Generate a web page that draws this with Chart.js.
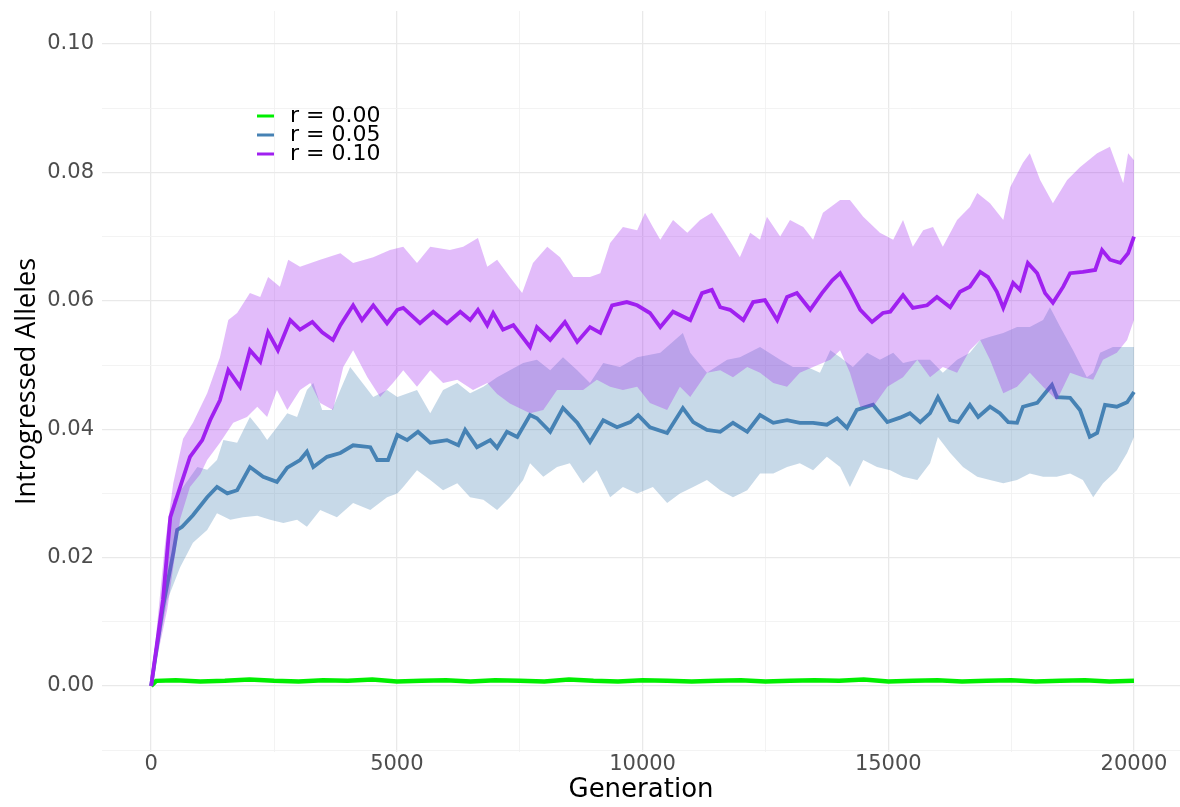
<!DOCTYPE html>
<html>
<head>
<meta charset="utf-8">
<title>Introgressed alleles by generation</title>
<script src="https://cdn.jsdelivr.net/npm/chart.js@4.4.1/dist/chart.umd.min.js"></script>
<style>
  html, body { margin: 0; padding: 0; background: #fff; }
  #wrap { width: 1180px; height: 807px; position: relative; }
</style>
</head>
<body>
<div id="wrap"><canvas id="chart"></canvas></div>
<script>
// r = 0.10 : mean and band
const purpleGen = [0, 240, 390, 590, 790, 1040, 1200, 1400, 1570, 1810,
  2010, 2220, 2380, 2580, 2830, 3030, 3280, 3480, 3700, 3850,
  4110, 4290, 4520, 4800, 5010, 5130, 5470, 5740, 6020, 6290,
  6490, 6650, 6840, 6960, 7160, 7370, 7710, 7850, 8120, 8420,
  8670, 8930, 9140, 9380, 9680, 9890, 10150, 10360, 10620, 10970,
  11210, 11410, 11580, 11780, 12050, 12250, 12490, 12740, 12940, 13140,
  13410, 13650, 13860, 14020, 14220, 14430, 14670, 14890, 15040, 15300,
  15500, 15790, 15990, 16260, 16460, 16660, 16870, 17030, 17210, 17340,
  17540, 17680, 17840, 18030, 18190, 18350, 18560, 18700, 18960, 19210,
  19350, 19510, 19720, 19880, 20000];
const purpleMean = [0, 0.0134, 0.0263, 0.031, 0.0357, 0.0383, 0.0414, 0.0445, 0.0492, 0.0466,
  0.0523, 0.0505, 0.0551, 0.0523, 0.057, 0.0555, 0.0567, 0.0551, 0.0539, 0.0562,
  0.0593, 0.057, 0.0593, 0.0565, 0.0586, 0.0589, 0.0565, 0.0583, 0.0565, 0.0583,
  0.057, 0.0586, 0.0562, 0.0581, 0.0555, 0.0562, 0.0528, 0.0559, 0.0539, 0.0567,
  0.0536, 0.0559, 0.055, 0.0593, 0.0598, 0.0593, 0.0581, 0.0559, 0.0583, 0.057,
  0.0612, 0.0617, 0.059, 0.0586, 0.057, 0.0598, 0.0601, 0.057, 0.0606, 0.0612,
  0.0586, 0.0612, 0.0632, 0.0643, 0.0617, 0.0586, 0.0567, 0.0581, 0.0583, 0.0609,
  0.0589, 0.0593, 0.0606, 0.059, 0.0614, 0.0622, 0.0645, 0.0637, 0.0614, 0.0589,
  0.0628, 0.0617, 0.0659, 0.0643, 0.0612, 0.0597, 0.0622, 0.0643, 0.0645, 0.0648,
  0.0679, 0.0664, 0.0659, 0.0674, 0.07];

const purpleUpperGen = [0, 280, 450, 650, 850, 1140, 1400, 1570, 1750, 2010,
  2220, 2380, 2620, 2790, 3030, 3440, 3850, 4110, 4520, 4860,
  5130, 5410, 5680, 6080, 6350, 6650, 6840, 7040, 7300, 7550,
  7770, 8060, 8320, 8590, 8930, 9140, 9340, 9600, 9890, 10050,
  10210, 10360, 10620, 10910, 11170, 11410, 11640, 11980, 12190, 12390,
  12530, 12800, 13000, 13270, 13470, 13670, 14020, 14220, 14490, 14830,
  15100, 15300, 15500, 15710, 15910, 16110, 16400, 16660, 16810, 17070,
  17340, 17480, 17740, 17880, 18090, 18350, 18640, 18900, 19250, 19510,
  19780, 19880, 20000];
const purpleUpper = [0, 0.022, 0.0316, 0.0385, 0.041, 0.0456, 0.0512, 0.057, 0.0581, 0.0612,
  0.0606, 0.0637, 0.0622, 0.0664, 0.0653, 0.0664, 0.0674, 0.0659, 0.0668, 0.0679,
  0.0684, 0.0659, 0.0684, 0.0679, 0.0684, 0.0698, 0.0653, 0.0664, 0.0637, 0.0612,
  0.0659, 0.0684, 0.0668, 0.0637, 0.0637, 0.0643, 0.069, 0.0715, 0.071, 0.0737,
  0.0715, 0.0695, 0.0726, 0.0706, 0.0726, 0.0737, 0.071, 0.0668, 0.0706, 0.0695,
  0.0731, 0.07, 0.0726, 0.0715, 0.0695, 0.0737, 0.0757, 0.0757, 0.0731, 0.0706,
  0.0695, 0.0726, 0.0684, 0.071, 0.0715, 0.0684, 0.0726, 0.0746, 0.0768, 0.0752,
  0.0726, 0.0777, 0.0815, 0.083, 0.0788, 0.0752, 0.0788, 0.0808, 0.083, 0.084,
  0.0783, 0.083, 0.0819];

const purpleLowerGen = [0, 330, 590, 790, 1000, 1140, 1400, 1670, 1950, 2160,
  2360, 2560, 2770, 3030, 3240, 3440, 3700, 3910, 4110, 4400,
  4660, 4920, 5130, 5410, 5680, 5940, 6230, 6550, 6840, 7040,
  7300, 7710, 7980, 8260, 8520, 8790, 9070, 9340, 9600, 9890,
  10150, 10500, 10760, 10970, 11310, 11580, 11840, 12130, 12390, 12660,
  12940, 13200, 13470, 13820, 14020, 14220, 14430, 14690, 14980, 15300,
  15590, 15850, 16110, 16400, 16660, 16870, 17070, 17340, 17620, 17880,
  18150, 18430, 18700, 18960, 19170, 19370, 19650, 19860, 20000];
const purpleLower = [0, 0.012, 0.026, 0.031, 0.033, 0.0352, 0.0379, 0.041, 0.0419, 0.0435,
  0.0419, 0.0461, 0.043, 0.0461, 0.0472, 0.0441, 0.043, 0.0497, 0.0523, 0.0481,
  0.045, 0.0472, 0.0492, 0.0466, 0.0492, 0.0472, 0.0477, 0.0461, 0.0472, 0.0455,
  0.044, 0.0425, 0.043, 0.0461, 0.0461, 0.0461, 0.0477, 0.0466, 0.0461, 0.0466,
  0.0441, 0.043, 0.0466, 0.045, 0.0488, 0.0492, 0.0481, 0.0497, 0.0488, 0.0472,
  0.0466, 0.0488, 0.0497, 0.0508, 0.0523, 0.0488, 0.0435, 0.0435, 0.0466, 0.0481,
  0.0508, 0.0481, 0.0497, 0.0488, 0.0523, 0.0539, 0.0508, 0.0456, 0.0466, 0.0488,
  0.0466, 0.0445, 0.0488, 0.0481, 0.0477, 0.0508, 0.0519, 0.0539, 0.057];

// r = 0.05 : mean and band
const blueGen = [0, 240, 450, 530, 630, 850, 1140, 1340, 1550, 1750,
  2010, 2280, 2560, 2770, 3030, 3170, 3300, 3580, 3850, 4110,
  4460, 4600, 4820, 5010, 5210, 5430, 5680, 6020, 6250, 6390,
  6630, 6900, 7040, 7240, 7450, 7710, 7850, 8120, 8380, 8670,
  8930, 9200, 9480, 9750, 9910, 10150, 10500, 10820, 11030, 11310,
  11580, 11840, 12130, 12390, 12660, 12940, 13200, 13470, 13750, 13960,
  14160, 14360, 14690, 14980, 15240, 15440, 15650, 15850, 16010, 16260,
  16420, 16660, 16830, 17070, 17270, 17440, 17620, 17740, 18030, 18190,
  18330, 18430, 18700, 18900, 19100, 19250, 19410, 19650, 19860, 20000];
const blueMean = [0, 0.0123, 0.0207, 0.0243, 0.0248, 0.0266, 0.0294, 0.031, 0.03, 0.0305,
  0.0341, 0.0326, 0.0318, 0.034, 0.0352, 0.0365, 0.0341, 0.0357, 0.0363, 0.0375,
  0.0372, 0.0352, 0.0352, 0.0391, 0.0383, 0.0396, 0.0379, 0.0383, 0.0375, 0.0399,
  0.0372, 0.0383, 0.0371, 0.0396, 0.0388, 0.0422, 0.0417, 0.0396, 0.0433, 0.041,
  0.038, 0.0414, 0.0403, 0.0411, 0.0422, 0.0403, 0.0394, 0.0433, 0.0411, 0.0399,
  0.0396, 0.041, 0.0396, 0.0422, 0.041, 0.0414, 0.041, 0.041, 0.0407, 0.0417,
  0.0402, 0.043, 0.0438, 0.0411, 0.0418, 0.0425, 0.0411, 0.0425, 0.045, 0.0414,
  0.0411, 0.0438, 0.0419, 0.0435, 0.0425, 0.0411, 0.041, 0.0435, 0.0441, 0.0456,
  0.0469, 0.045, 0.0449, 0.043, 0.0388, 0.0394, 0.0438, 0.0435, 0.0442, 0.0458];

const blueUpperGen = [0, 280, 450, 650, 940, 1140, 1340, 1470, 1750, 2010,
  2220, 2360, 2560, 2770, 2970, 3170, 3300, 3480, 3680, 3850,
  4050, 4250, 4520, 4800, 5010, 5410, 5680, 5940, 6230, 6490,
  6760, 7040, 7300, 7570, 7850, 8120, 8380, 8670, 8930, 9200,
  9540, 9890, 10360, 10820, 10970, 11310, 11720, 11980, 12390, 12800,
  13060, 13350, 13610, 13820, 14020, 14280, 14570, 14830, 15100, 15300,
  15590, 15850, 16110, 16400, 16660, 16870, 17070, 17340, 17620, 17880,
  18150, 18290, 18500, 18760, 19040, 19170, 19310, 19570, 19780, 20000];
const blueUpper = [0, 0.016, 0.029, 0.031, 0.0341, 0.0337, 0.0352, 0.0383, 0.0379, 0.0419,
  0.0399, 0.0383, 0.0403, 0.0425, 0.0419, 0.0461, 0.0472, 0.043, 0.043, 0.0461,
  0.0497, 0.0477, 0.045, 0.0461, 0.045, 0.0461, 0.0425, 0.0461, 0.0472, 0.0456,
  0.0466, 0.0481, 0.0492, 0.0503, 0.0508, 0.0492, 0.0512, 0.0492, 0.0472, 0.0503,
  0.0497, 0.0512, 0.0519, 0.055, 0.0519, 0.0488, 0.0508, 0.0512, 0.0528, 0.0508,
  0.0497, 0.0497, 0.0488, 0.0523, 0.0512, 0.0497, 0.0519, 0.0508, 0.0519, 0.0503,
  0.0508, 0.0508, 0.0488, 0.0508, 0.0519, 0.0539, 0.0544, 0.055, 0.0559, 0.0559,
  0.057, 0.059, 0.0559, 0.0523, 0.0481, 0.0488, 0.0519, 0.0528, 0.0528, 0.0528];

const blueLowerGen = [0, 330, 590, 850, 1140, 1340, 1610, 1870, 2160, 2420,
  2690, 2970, 3170, 3440, 3780, 4110, 4460, 4800, 5010, 5130,
  5410, 5680, 5940, 6230, 6490, 6760, 7040, 7300, 7570, 7710,
  7980, 8260, 8520, 8790, 9070, 9340, 9600, 9890, 10210, 10500,
  10760, 11030, 11310, 11580, 11840, 12130, 12390, 12660, 12940, 13200,
  13470, 13750, 14020, 14220, 14490, 14770, 15040, 15300, 15590, 15850,
  16010, 16260, 16520, 16810, 17070, 17340, 17620, 17880, 18150, 18430,
  18700, 18960, 19170, 19370, 19650, 19860, 20000];
const blueLower = [0, 0.0134, 0.0185, 0.0223, 0.0243, 0.0269, 0.0259, 0.0263, 0.0265, 0.0259,
  0.0254, 0.0259, 0.0248, 0.0274, 0.0263, 0.0285, 0.0274, 0.0294, 0.03, 0.031,
  0.0336, 0.0321, 0.0305, 0.0316, 0.0294, 0.029, 0.0274, 0.0294, 0.0321, 0.0347,
  0.0326, 0.0341, 0.0347, 0.0316, 0.0336, 0.0294, 0.031, 0.03, 0.031, 0.0285,
  0.03, 0.031, 0.0321, 0.0305, 0.0294, 0.0305, 0.0331, 0.0331, 0.0341, 0.0347,
  0.0336, 0.0357, 0.0341, 0.031, 0.0352, 0.0341, 0.0336, 0.0326, 0.0321, 0.0347,
  0.0388, 0.0363, 0.0341, 0.0326, 0.0321, 0.0316, 0.0321, 0.0331, 0.0326, 0.0326,
  0.0331, 0.0321, 0.0294, 0.0316, 0.0336, 0.0363, 0.0388];

// r = 0.00 : stays just above zero
const greenGen = [0, 100, 500, 1000, 1500, 2000, 2500, 3000, 3500, 4000,
  4500, 5000, 5500, 6000, 6500, 7000, 7500, 8000, 8500, 9000,
  9500, 10000, 10500, 11000, 11500, 12000, 12500, 13000, 13500, 14000,
  14500, 15000, 15500, 16000, 16500, 17000, 17500, 18000, 18500, 19000,
  19500, 20000];
const greenMean = [0, 0.0008, 0.0009, 0.0007, 0.0008, 0.001, 0.0008, 0.0007, 0.0009, 0.0008,
  0.001, 0.0007, 0.0008, 0.0009, 0.0007, 0.0009, 0.0008, 0.0007, 0.001, 0.0008,
  0.0007, 0.0009, 0.0008, 0.0007, 0.0008, 0.0009, 0.0007, 0.0008, 0.0009, 0.0008,
  0.001, 0.0007, 0.0008, 0.0009, 0.0007, 0.0008, 0.0009, 0.0007, 0.0008, 0.0009,
  0.0007, 0.0008];

const legendLabels = ['r = 0.00', 'r = 0.05', 'r = 0.10'];
const xTicks = [0, 2500, 5000, 7500, 10000, 12500, 15000, 17500, 20000];
const xTickLabels = ['0', '', '5000', '', '10000', '', '15000', '', '20000'];
const yTicks = [-0.01, 0, 0.01, 0.02, 0.03, 0.04, 0.05, 0.06, 0.07, 0.08, 0.09, 0.1];
const yTickLabels = ['', '0.00', '', '0.02', '', '0.04', '', '0.06', '', '0.08', '', '0.10'];

const GREEN = '#00ee00';
const BLUE = '#4682b4';
const PURPLE = '#a020f0';
const lineColors = [GREEN, BLUE, PURPLE];

const pts = (gens, vals) => gens.map((g, i) => ({ x: g, y: vals[i] }));

function lineSet(data, color, width) {
  return {
    data: data, borderColor: color, borderWidth: width,
    pointRadius: 0, tension: 0, fill: false
  };
}
function bandTop(data, color) {
  return {
    data: data, borderWidth: 0, pointRadius: 0, tension: 0,
    backgroundColor: color, fill: '+1'
  };
}
function bandBottom(data) {
  return { data: data, borderWidth: 0, pointRadius: 0, tension: 0, fill: false };
}

// draw the small key inside the panel, top left
const insideLegend = {
  id: 'insideLegend',
  afterDraw(chart) {
    const ctx = chart.ctx;
    ctx.save();
    ctx.font = '22px "DejaVu Sans"';
    ctx.textBaseline = 'middle';
    ctx.textAlign = 'left';
    legendLabels.forEach((label, i) => {
      const y = 116 + i * 19;
      ctx.strokeStyle = lineColors[i];
      ctx.lineWidth = 3;
      ctx.beginPath();
      ctx.moveTo(257, y);
      ctx.lineTo(274, y);
      ctx.stroke();
      ctx.fillStyle = '#000';
      ctx.fillText(label, 290, y);
    });
    ctx.restore();
  }
};

const gridColor = c => (c.index % 2 === 0 ? '#e9e9e9' : '#f2f2f2');
const gridWidth = c => (c.index % 2 === 0 ? 1.3 : 0.9);
const yGridColor = c => (c.index % 2 === 1 ? '#e9e9e9' : '#f2f2f2');
const yGridWidth = c => (c.index % 2 === 1 ? 1.3 : 0.9);

new Chart(document.getElementById('chart'), {
  type: 'line',
  data: {
    datasets: [
      lineSet(pts(purpleGen, purpleMean), PURPLE, 3.8),
      bandTop(pts(purpleUpperGen, purpleUpper), 'rgba(160, 32, 240, 0.3)'),
      bandBottom(pts(purpleLowerGen, purpleLower)),
      lineSet(pts(blueGen, blueMean), BLUE, 3.8),
      bandTop(pts(blueUpperGen, blueUpper), 'rgba(70, 130, 180, 0.3)'),
      bandBottom(pts(blueLowerGen, blueLower)),
      lineSet(pts(greenGen, greenMean), GREEN, 4.5)
    ]
  },
  plugins: [insideLegend],
  options: {
    responsive: true,
    maintainAspectRatio: false,
    animation: false,
    layout: { padding: { top: 11, right: 0, bottom: 0, left: 0 } },
    plugins: {
      legend: { display: false },
      tooltip: { enabled: false }
    },
    scales: {
      x: {
        type: 'linear',
        min: -1000,
        max: 20936,
        afterBuildTicks: s => { s.ticks = xTicks.map(v => ({ value: v })); },
        afterFit: s => { s.height = 55; s.paddingLeft = 0; s.paddingRight = 0; },
        border: { display: false },
        grid: { drawTicks: false, color: gridColor, lineWidth: gridWidth },
        ticks: {
          autoSkip: false, maxRotation: 0, padding: 0,
          color: '#4d4d4d',
          font: { family: 'DejaVu Sans', size: 21 },
          callback: (v, i) => xTickLabels[i]
        },
        title: {
          display: true, text: 'Generation', color: '#000',
          font: { family: 'DejaVu Sans', size: 26 },
          padding: { top: 0, bottom: 1 }
        }
      },
      y: {
        min: -0.01028,
        max: 0.10514,
        afterBuildTicks: s => { s.ticks = yTicks.map(v => ({ value: v })); },
        afterFit: s => { s.width = 102; s.paddingTop = 0; s.paddingBottom = 0; },
        border: { display: false },
        grid: { drawTicks: false, color: yGridColor, lineWidth: yGridWidth },
        ticks: {
          autoSkip: false, padding: 8,
          color: '#4d4d4d',
          font: { family: 'DejaVu Sans', size: 21 },
          callback: (v, i) => yTickLabels[i]
        },
        title: {
          display: true, text: 'Introgressed Alleles', color: '#000',
          font: { family: 'Open Sans', size: 27 },
          padding: { top: 11, bottom: 0 }
        }
      }
    }
  }
});
</script>
</body>
</html>
